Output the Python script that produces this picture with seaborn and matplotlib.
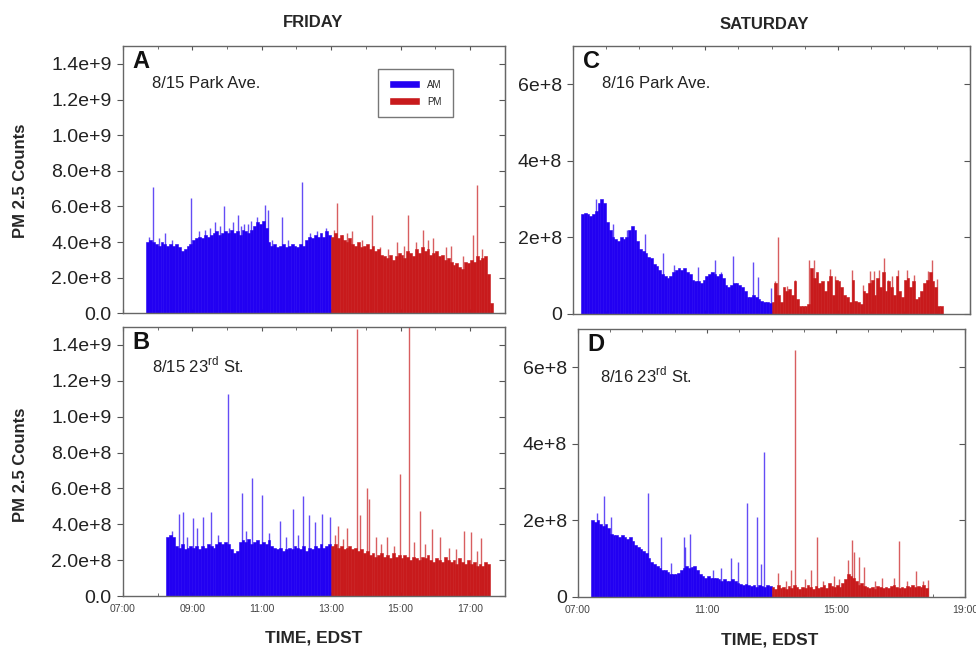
import numpy as np
import pandas as pd
import matplotlib
matplotlib.use("Agg")
import matplotlib.pyplot as plt
import seaborn as sns
from matplotlib.patches import Patch
from matplotlib.ticker import MultipleLocator

STEP = 5 / 60.0  # 5-minute samples, in hours
PM_START = 13.0

# ---- A: 8/15 Park Ave. (counts in units of 1e8) ----
a_am_start = 7 + 40 / 60
a_am = [4.0, 4.1, 4.0, 3.9,
        3.8, 4.0, 3.9, 3.8, 3.9, 3.8,
        3.9, 3.7, 3.5, 3.6, 3.8, 3.9,
        4.1, 4.2, 4.3, 4.2, 4.4, 4.3,
        4.4, 4.5, 4.6, 4.4, 4.5, 4.6,
        4.5, 4.7, 4.5, 4.6, 4.4, 4.7,
        4.6, 4.5, 4.7, 4.9, 5.1, 5.0,
        5.2, 4.8, 4.0, 3.8, 3.9, 3.7,
        3.8, 3.9, 3.7, 3.8, 3.9, 3.8,
        3.7, 3.9, 3.8, 4.1, 4.3, 4.2,
        4.4, 4.3, 4.5, 4.3, 4.6, 4.4]
a_pm = [4.3, 4.5, 4.2, 4.4, 4.1, 4.0,
        4.2, 3.9, 3.8, 4.0, 3.7, 3.8,
        3.9, 3.6, 3.8, 3.5, 3.6, 3.3,
        3.2, 3.1, 3.3, 3.0, 3.2, 3.4,
        3.3, 3.1, 3.5, 3.4, 3.2, 3.6,
        3.4, 3.7, 3.5, 3.6, 3.3, 3.4,
        3.5, 3.2, 3.3, 3.0, 3.1, 2.9,
        2.7, 2.8, 2.6, 2.5, 2.9, 2.8,
        3.0, 2.9, 3.2, 3.0, 3.1, 3.2,
        2.2, 0.6]
a_am_spike_t = [7.75, 7.86, 8.05, 8.21, 8.40, 8.96, 9.20, 9.35, 9.50, 9.66, 9.80, 9.92, 10.05, 10.16,
                10.31, 10.40, 10.50, 10.60, 10.69, 10.85, 11.10, 11.17, 11.30, 11.58, 11.75, 12.15,
                12.40, 12.60, 12.85]
a_am_spike_v = [4.3, 7.1, 4.2, 4.5, 4.1, 6.5, 4.6, 4.7, 4.8, 5.1, 4.9, 6.0, 4.8, 5.1,
                5.5, 4.9, 5.0, 5.0, 5.2, 5.4, 6.1, 5.8, 4.1, 5.4, 4.1, 7.4,
                4.5, 4.6, 4.8]
a_pm_spike_t = [13.08, 13.16, 13.30, 13.45, 13.60, 13.90, 14.17, 14.40, 14.65, 14.90, 15.10, 15.23,
                15.45, 15.66, 15.80, 15.95, 16.30, 16.45, 16.80, 17.10, 17.20, 17.35]
a_pm_spike_v = [4.7, 6.2, 4.4, 4.5, 4.6, 4.1, 5.5, 3.7, 3.6, 4.0, 3.8, 5.5,
                4.0, 4.7, 4.1, 4.2, 3.7, 3.8, 3.2, 4.4, 7.2, 3.6]

# ---- B: 8/15 23rd St. ----
b_am_start = 8 + 15 / 60
b_am = [3.3, 3.4, 3.3,
        2.8, 2.7, 2.9, 2.6, 2.7, 2.8,
        2.7, 2.8, 2.6, 2.8, 2.7, 2.9,
        2.8, 2.7, 2.9, 3.0, 2.9, 3.0,
        2.9, 2.6, 2.4, 2.5, 3.0, 3.1,
        3.0, 3.2, 2.9, 3.0, 3.1, 2.9,
        3.0, 2.9, 3.1, 2.8, 2.7, 2.6,
        2.7, 2.5, 2.6, 2.7, 2.6, 2.8,
        2.7, 2.6, 2.8, 2.5, 2.7, 2.6,
        2.8, 2.7, 2.9, 2.7, 2.8, 2.9]
b_pm = [2.8, 2.9, 2.7, 2.8, 2.6, 2.7,
        2.8, 2.6, 2.7, 2.5, 2.6, 2.4,
        2.5, 2.3, 2.4, 2.2, 2.3, 2.4,
        2.2, 2.3, 2.1, 2.4, 2.2, 2.3,
        2.1, 2.3, 2.2, 2.0, 2.2, 2.1,
        2.0, 2.2, 2.1, 2.3, 2.0, 1.9,
        2.1, 2.0, 1.9, 2.2, 2.0, 1.9,
        2.0, 1.8, 2.1, 1.9, 1.8, 2.0,
        1.8, 1.9, 1.7, 1.8, 1.7, 1.9,
        1.8]
b_am_spike_t = [8.40, 8.62, 8.74, 8.85, 9.03, 9.13, 9.32, 9.54, 9.75, 10.02, 10.42, 10.55, 10.73,
                11.00, 11.20, 11.53, 11.70, 11.90, 12.05, 12.18, 12.35, 12.54, 12.75, 12.97]
b_am_spike_v = [3.6, 4.6, 4.7, 3.3, 4.35, 3.8, 4.4, 4.7, 3.4, 11.25, 5.75, 3.6, 6.6,
                5.65, 3.5, 4.2, 3.3, 4.85, 3.4, 5.6, 4.5, 4.1, 4.6, 4.4]
b_pm_spike_t = [13.10, 13.19, 13.35, 13.46, 13.76, 13.82, 14.03, 14.10, 14.30, 14.45, 14.60, 14.80,
                14.99, 15.25, 15.40, 15.55, 15.70, 15.92, 16.14, 16.40, 16.60, 16.82, 17.03, 17.20, 17.33]
b_pm_spike_v = [3.4, 3.9, 3.2, 3.8, 14.9, 4.5, 6.0, 5.4, 3.3, 2.9, 3.3, 2.8,
                6.8, 16.0, 3.0, 4.75, 2.9, 3.75, 3.3, 2.7, 2.6, 3.6, 3.55, 2.5, 3.25]

# ---- C: 8/16 Park Ave. ----
c_am_start = 7 + 15 / 60
c_am = [2.6, 2.65, 2.6,
        2.55, 2.6, 2.7, 2.9, 3.0, 2.9,
        2.4, 2.2, 2.0, 1.95, 1.9, 2.0,
        1.95, 2.0, 2.2, 2.3, 2.2, 1.9,
        1.7, 1.65, 1.6, 1.5, 1.45, 1.3,
        1.25, 1.15, 1.05, 1.0, 0.95, 1.0,
        1.1, 1.15, 1.2, 1.15, 1.2, 1.1,
        1.05, 0.9, 0.85, 0.85, 0.8, 0.9,
        1.0, 1.05, 1.1, 1.05, 1.0, 1.05,
        0.95, 0.75, 0.7, 0.75, 0.8, 0.8,
        0.75, 0.7, 0.6, 0.45, 0.45, 0.5,
        0.45, 0.4, 0.35, 0.3, 0.3, 0.28]
c_pm = [0.3, 0.8, 0.5, 0.3, 0.7, 0.6,
        0.65, 0.5, 0.85, 0.4, 0.2, 0.2,
        0.2, 0.25, 1.2, 0.95, 1.1, 0.8,
        0.85, 0.6, 0.85, 1.0, 0.5, 0.9,
        0.85, 0.7, 0.5, 0.45, 0.3, 0.9,
        0.35, 0.3, 0.25, 0.6, 0.55, 0.8,
        0.9, 0.5, 0.95, 0.7, 1.1, 0.6,
        0.85, 0.7, 0.5, 1.0, 0.6, 0.45,
        0.9, 0.95, 0.7, 0.85, 0.4, 0.45,
        0.6, 0.8, 0.9, 1.1, 0.85, 0.7,
        0.2, 0.2]
c_am_spike_t = [7.70, 8.20, 8.62, 9.18, 9.71, 10.06, 10.79, 11.16, 11.29, 11.46, 11.83, 12.43, 12.60, 12.99]
c_am_spike_v = [3.0, 2.34, 2.2, 2.08, 1.6, 1.29, 1.23, 1.1, 1.42, 1.1, 1.51, 1.35, 0.96, 0.67]
c_pm_spike_t = [13.11, 13.21, 13.46, 13.71, 14.13, 14.29, 14.37, 14.77, 14.92, 15.42, 15.77, 15.98, 16.11,
                16.26, 16.39, 16.51, 16.63, 16.81, 17.09, 17.29, 17.74, 17.84, 17.99]
c_pm_spike_v = [0.85, 2.0, 0.72, 0.9, 1.4, 1.42, 1.03, 1.18, 1.0, 1.14, 0.76, 1.11, 1.11,
                1.16, 1.46, 0.9, 1.0, 1.16, 1.16, 1.03, 1.11, 1.42, 0.91]

# ---- D: 8/16 23rd St. ----
d_am_start = 7 + 25 / 60
d_am = [2.0,
        1.95, 2.0, 1.9, 1.85, 1.9, 1.8,
        1.65, 1.6, 1.6, 1.55, 1.6, 1.55,
        1.5, 1.55, 1.45, 1.35, 1.3, 1.25,
        1.2, 1.15, 1.0, 0.9, 0.85, 0.8,
        0.75, 0.7, 0.7, 0.65, 0.6, 0.6,
        0.6, 0.62, 0.7, 0.75, 0.8, 0.75,
        0.78, 0.8, 0.7, 0.6, 0.55, 0.5,
        0.55, 0.5, 0.48, 0.5, 0.45, 0.42,
        0.45, 0.4, 0.42, 0.45, 0.4, 0.35,
        0.33, 0.3, 0.32, 0.3, 0.28, 0.3,
        0.25, 0.3, 0.28, 0.25, 0.3, 0.28]
d_pm = [0.25, 0.2, 0.3, 0.22, 0.25, 0.2,
        0.28, 0.22, 0.3, 0.25, 0.2, 0.25,
        0.22, 0.3, 0.25, 0.2, 0.28, 0.22,
        0.25, 0.3, 0.22, 0.35, 0.28, 0.25,
        0.3, 0.25, 0.35, 0.45, 0.6, 0.55,
        0.5, 0.4, 0.3, 0.35, 0.28, 0.25,
        0.22, 0.25, 0.2, 0.28, 0.25, 0.22,
        0.25, 0.22, 0.28, 0.3, 0.25, 0.22,
        0.25, 0.22, 0.28, 0.25, 0.3, 0.25,
        0.28, 0.25, 0.3, 0.22]
d_am_spike_t = [7.61, 7.80, 8.04, 9.16, 9.59, 9.88, 10.28, 10.32, 10.47, 11.20, 11.43, 11.73, 11.97, 12.25, 12.54, 12.66, 12.78]
d_am_spike_v = [2.2, 2.63, 2.08, 2.7, 1.57, 0.88, 1.55, 1.3, 1.63, 0.7, 0.75, 1.0, 0.92, 2.44, 2.08, 0.86, 3.77]
d_pm_spike_t = [13.21, 13.45, 13.60, 13.73, 14.05, 14.22, 14.40, 14.60, 14.92, 15.10, 15.38, 15.49, 15.54,
                15.72, 15.87, 16.20, 16.42, 16.78, 16.95, 17.20, 17.47, 17.70, 17.86]
d_pm_spike_v = [0.62, 0.4, 0.7, 6.44, 0.45, 0.7, 1.57, 0.4, 0.53, 0.45, 0.97, 1.47, 1.18,
                1.05, 0.77, 0.4, 0.49, 0.49, 1.46, 0.4, 0.66, 0.4, 0.44]

fri_xticks = [7, 9, 11, 13, 15, 17]
fri_xlabels = ["07:00", "09:00", "11:00", "13:00", "15:00", "17:00"]
sat_xticks = [7, 11, 15, 19]
sat_xlabels = ["07:00", "11:00", "15:00", "19:00"]
fri_yticks = [0, 2e8, 4e8, 6e8, 8e8, 1.0e9, 1.2e9, 1.4e9]
fri_ylabels = ["0.0", "2.0e+8", "4.0e+8", "6.0e+8", "8.0e+8", "1.0e+9", "1.2e+9", "1.4e+9"]
sat_yticks = [0, 2e8, 4e8, 6e8]
sat_ylabels = ["0", "2e+8", "4e+8", "6e+8"]

BLUE = "#2200f2"
RED = "#c81a1c"

sns.set_style("ticks")
plt.rcParams["font.family"] = ["Liberation Sans", "DejaVu Sans"]


def draw_series(ax, start, values, color):
    n = len(values)
    t = start + (np.arange(n) + 0.5) * STEP
    df = pd.DataFrame({"time": t, "counts": np.array(values) * 1e8})
    # one sample per 5-minute bin, bar height = sample value
    sns.histplot(data=df, x="time", weights="counts", binwidth=STEP,
                 binrange=(start, start + n * STEP), element="bars",
                 fill=True, color=color, alpha=1, edgecolor=color, linewidth=0.4, ax=ax)


def draw_spikes(ax, times, values, color):
    ax.vlines(times, 0, np.array(values) * 1e8, colors=color, lw=1.0, alpha=0.7)


def panel(ax, am_start, am, pm, sam_t, sam_v, spm_t, spm_v, xlim, ylim,
          xticks, xlabels, yticks, ylabels, show_x, letter, caption, cap_x, cap_y):
    draw_series(ax, am_start, am, BLUE)
    draw_series(ax, PM_START, pm, RED)
    draw_spikes(ax, sam_t, sam_v, BLUE)
    draw_spikes(ax, spm_t, spm_v, RED)
    ax.set_xlim(*xlim)
    ax.set_ylim(*ylim)
    ax.set_xticks(xticks)
    ax.xaxis.set_minor_locator(MultipleLocator(1))
    ax.set_xticklabels(xlabels if show_x else [])
    ax.set_yticks(yticks)
    ax.set_yticklabels(ylabels)
    ax.set_xlabel("")
    ax.set_ylabel("")
    ax.tick_params(axis="x", which="both", direction="in", top=True, labelsize=7.5,
                   labelcolor="#444444", color="#555555", length=3, pad=6)
    ax.tick_params(axis="x", which="minor", length=2)
    ax.tick_params(axis="y", direction="out", labelsize=14, pad=4,
                   color="#555555", length=4, labelcolor="#222222")
    right = ax.secondary_yaxis("right")
    right.set_yticks(yticks)
    right.tick_params(direction="in", labelright=False, color="#555555", length=4)
    right.spines["right"].set_color("#666666")
    for s in ax.spines.values():
        s.set_visible(True)
        s.set_color("#666666")
        s.set_linewidth(1.0)
    ax.text(0.025, 0.985, letter, transform=ax.transAxes, ha="left", va="top",
            fontsize=17, fontweight="bold", color="#111111")
    ax.text(cap_x, cap_y, caption, transform=ax.transAxes, ha="left", va="center",
            fontsize=12, color="#222222")


fig = plt.figure(figsize=(9.76, 6.5), dpi=100)
axA = fig.add_axes([0.126, 0.518, 0.391, 0.411])
axB = fig.add_axes([0.126, 0.083, 0.391, 0.414])
axC = fig.add_axes([0.587, 0.517, 0.407, 0.412])
axD = fig.add_axes([0.592, 0.082, 0.397, 0.412])

panel(axA, a_am_start, a_am, a_pm, a_am_spike_t, a_am_spike_v, a_pm_spike_t, a_pm_spike_v,
      (7, 18), (0, 1.5e9), fri_xticks, fri_xlabels, fri_yticks, fri_ylabels, False,
      "A", "8/15 Park Ave.", 0.076, 0.861)
panel(axB, b_am_start, b_am, b_pm, b_am_spike_t, b_am_spike_v, b_pm_spike_t, b_pm_spike_v,
      (7, 18), (0, 1.5e9), fri_xticks, fri_xlabels, fri_yticks, fri_ylabels, True,
      "B", r"8/15 23$^{\mathregular{rd}}$ St.", 0.076, 0.859)
panel(axC, c_am_start, c_am, c_pm, c_am_spike_t, c_am_spike_v, c_pm_spike_t, c_pm_spike_v,
      (7, 19), (0, 7e8), sat_xticks, sat_xlabels, sat_yticks, sat_ylabels, False,
      "C", "8/16 Park Ave.", 0.073, 0.861)
panel(axD, d_am_start, d_am, d_pm, d_am_spike_t, d_am_spike_v, d_pm_spike_t, d_pm_spike_v,
      (7, 19), (0, 7e8), sat_xticks, sat_xlabels, sat_yticks, sat_ylabels, True,
      "D", r"8/16 23$^{\mathregular{rd}}$ St.", 0.058, 0.828)

axA.legend(handles=[Patch(facecolor=BLUE, label="AM"), Patch(facecolor=RED, label="PM")],
           loc="upper left", bbox_to_anchor=(0.668, 0.914), fontsize=7, handlelength=3.2,
           handleheight=0.9, frameon=True, fancybox=False, edgecolor="#555555",
           borderpad=1.1, labelspacing=0.7, borderaxespad=0)

fig.text(0.321, 0.966, "FRIDAY", ha="center", va="center", fontsize=12, fontweight="bold")
fig.text(0.783, 0.962, "SATURDAY", ha="center", va="center", fontsize=12, fontweight="bold")
fig.text(0.021, 0.722, "PM 2.5 Counts", rotation=90, ha="center", va="center",
         fontsize=12, fontweight="bold")
fig.text(0.021, 0.285, "PM 2.5 Counts", rotation=90, ha="center", va="center",
         fontsize=12, fontweight="bold")
fig.text(0.321, 0.018, "TIME, EDST", ha="center", va="center", fontsize=12.5, fontweight="bold")
fig.text(0.789, 0.015, "TIME, EDST", ha="center", va="center", fontsize=12.5, fontweight="bold")

fig.savefig("out.png", dpi=100)
plt.close("all")
